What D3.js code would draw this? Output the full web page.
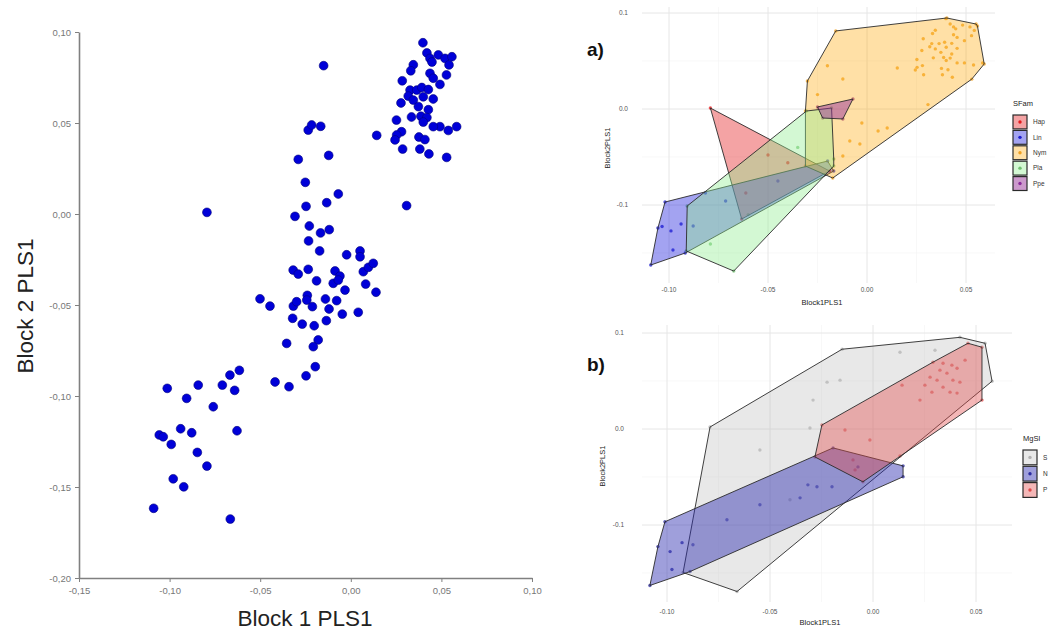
<!DOCTYPE html>
<html>
<head>
<meta charset="utf-8">
<script src="https://cdn.jsdelivr.net/npm/d3@7"></script>
<style>
  body { margin: 0; background: #fff; }
  svg { display: block; font-family: "Liberation Sans", Arial, sans-serif; }
</style>
</head>
<body>
<script>
// ---------- datos: panel izquierdo (Block 1 PLS1 / Block 2 PLS1) ----------
const lowPts = [
  [-0.1013,-0.0958],[-0.0842,-0.0940],[-0.0906,-0.1013],[-0.0709,-0.0940],[-0.0667,-0.0885],
  [-0.0615,-0.0859],[-0.0641,-0.0969],[-0.0759,-0.1059],[-0.0939,-0.1180],[-0.0878,-0.1202],
  [-0.1057,-0.1214],[-0.1035,-0.1224],[-0.0991,-0.1266],[-0.0628,-0.1191],[-0.0847,-0.1310],
  [-0.0794,-0.1385],[-0.0980,-0.1455],[-0.0922,-0.1499],[-0.1088,-0.1617],[-0.0665,-0.1676],
  [-0.0794,0.0009]
];
const midPts = [
  [-0.0150,0.0815],[-0.0235,0.0461],[-0.0216,0.0489],[-0.0166,0.0482],[0.0143,0.0432],
  [-0.0290,0.0300],[-0.0122,0.0322],[-0.0251,0.0174],[-0.0069,0.0110],[-0.0247,0.0042],
  [-0.0133,0.0062],[-0.0308,-0.0013],[-0.0229,-0.0066],[-0.0167,-0.0104],[-0.0119,-0.0086],
  [-0.0233,-0.0148],[-0.0172,-0.0203],[-0.0023,-0.0224],[0.0051,-0.0203],[0.0051,-0.0235],
  [-0.0318,-0.0308],[-0.0290,-0.0330],[-0.0235,-0.0304],[-0.0087,-0.0313],[-0.0060,-0.0341],
  [0.0069,-0.0317],[0.0097,-0.0293],[0.0124,-0.0271],[-0.0189,-0.0367],[-0.0097,-0.0381],
  [-0.0069,-0.0363],[0.0082,-0.0385],[0.0139,-0.0430],[-0.0032,-0.0418],[-0.0501,-0.0466],
  [-0.0446,-0.0506],[-0.0317,-0.0506],[-0.0299,-0.0482],[-0.0240,-0.0447],[-0.0243,-0.0473],
  [-0.0212,-0.0509],[-0.0140,-0.0467],[-0.0078,-0.0476],[-0.0120,-0.0522],[-0.0047,-0.0550],
  [0.0041,-0.0540],[-0.0321,-0.0573],[-0.0268,-0.0605],[-0.0202,-0.0614],[-0.0135,-0.0586],
  [-0.0354,-0.0711],[-0.0180,-0.0692],[-0.0207,-0.0729],[-0.0196,-0.0839],[-0.0247,-0.0889],
  [-0.0418,-0.0923],[-0.0341,-0.0949]
];
const topPts = [
  [0.0398,0.0941],[0.0420,0.0885],[0.0437,0.0855],[0.0483,0.0874],[0.0520,0.0855],
  [0.0558,0.0864],[0.0542,0.0819],[0.0345,0.0820],[0.0331,0.0787],[0.0448,0.0835],
  [0.0437,0.0773],[0.0455,0.0746],[0.0528,0.0764],[0.0284,0.0732],[0.0492,0.0712],
  [0.0327,0.0681],[0.0364,0.0681],[0.0392,0.0695],[0.0428,0.0684],[0.0317,0.0648],
  [0.0345,0.0626],[0.0400,0.0644],[0.0455,0.0632],[0.0277,0.0610],[0.0373,0.0590],
  [0.0428,0.0573],[0.0335,0.0533],[0.0387,0.0537],[0.0420,0.0530],[0.0400,0.0505],
  [0.0252,0.0516],[0.0492,0.0480],[0.0538,0.0459],[0.0584,0.0480],[0.0455,0.0480],
  [0.0280,0.0452],[0.0253,0.0434],[0.0244,0.0407],[0.0376,0.0423],[0.0409,0.0409],
  [0.0286,0.0357],[0.0381,0.0357],[0.0431,0.0330],[0.0529,0.0311],[0.0308,0.0046]
];
const mainXTicks = [-0.15, -0.10, -0.05, 0.00, 0.05, 0.10];
const mainYTicks = [-0.20, -0.15, -0.10, -0.05, 0.00, 0.05, 0.10];

// ---------- datos: panel a) por subfamilia ----------
const famNames = ["Hap", "Lin", "Nym", "Pla", "Ppe"];
const hapPts = [[-0.0791,0.0010],[-0.0633,-0.1146],[-0.0189,-0.0646],[-0.0500,-0.0479],[-0.0612,-0.0875],[-0.0400,-0.0560]];
const linPts = [[-0.1092,-0.1625],[-0.1020,-0.0969],[-0.0816,-0.0875],[-0.0199,-0.0542],[-0.0168,-0.0646],[-0.0918,-0.1500],
  [-0.1056,-0.1240],[-0.1035,-0.1224],[-0.0990,-0.1270],[-0.0939,-0.1198],[-0.0980,-0.1469],[-0.0878,-0.1219],
  [-0.0714,-0.0958],[-0.0450,-0.0750]];
const nymPts = [[-0.0158,0.0813],[0.0403,0.0948],[0.0551,0.0885],[0.0592,0.0469],[-0.0173,-0.0719],[-0.0311,-0.0594],
  [-0.0311,-0.0021],[-0.0301,0.0292],[-0.0122,0.0313],[-0.0087,-0.0333],[-0.0036,-0.0365],[0.0056,-0.0229],
  [0.0102,-0.0198],[-0.0026,-0.0146],[-0.0122,-0.0490],[0.0153,0.0427],[-0.0200,0.0450],[-0.0250,0.0150]]
  .concat(topPts);
const plaPts = [[-0.0908,-0.1010],[-0.0306,-0.0021],[-0.0179,0.0010],[-0.0168,-0.0521],[-0.0168,-0.0594],
  [-0.0673,-0.1688],[-0.0913,-0.1479],[-0.0791,-0.1406],[-0.0600,-0.1100],[-0.0350,-0.0400]];
const ppePts = [[-0.0250,0.0021],[-0.0071,0.0104],[-0.0122,-0.0104],[-0.0224,-0.0094]];

// ---------- datos: panel b) por MgSl ----------
const mgNames = ["S", "N", "P"];
const sPts = [[-0.0922,-0.1495],[-0.0791,0.0021],[-0.0150,0.0831],[0.0422,0.0955],[0.0544,0.0893],[0.0578,0.0498],
  [-0.0660,-0.1693],[-0.0223,0.0488],[-0.0160,0.0509],[-0.0291,0.0301],[-0.0306,0.0010],[-0.0549,-0.0218],
  [0.0301,0.0820],[0.0131,0.0800],[-0.0403,-0.0737]];
const nPts = [[-0.1083,-0.1630],[-0.1010,-0.0966],[-0.0194,-0.0197],[0.0146,-0.0384],[0.0146,-0.0498],[-0.0888,-0.1485],
  [-0.1044,-0.1225],[-0.0985,-0.1277],[-0.0927,-0.1184],[-0.0874,-0.1205],[-0.0976,-0.1464],[-0.0709,-0.0945],
  [-0.0354,-0.0717],[-0.0316,-0.0582],[-0.0272,-0.0602],[-0.0199,-0.0602],[-0.0073,-0.0395],[-0.0549,-0.0789]];
const pPts = [[-0.0248,0.0042],[-0.0282,-0.0291],[-0.0049,-0.0550],[0.0131,-0.0280],[0.0529,0.0301],[0.0529,0.0852],
  [0.0461,0.0893],[0.0291,0.0696],[0.0340,0.0685],[0.0383,0.0665],[0.0408,0.0633],[0.0325,0.0613],[0.0359,0.0582],
  [0.0277,0.0540],[0.0311,0.0509],[0.0388,0.0509],[0.0422,0.0488],[0.0252,0.0457],[0.0340,0.0436],[0.0374,0.0384],
  [0.0286,0.0384],[0.0408,0.0374],[0.0141,0.0457],[0.0447,0.0717],[0.0228,0.0301],[-0.0097,-0.0322],
  [-0.0087,-0.0426],[-0.0015,-0.0114],[-0.0136,-0.0010]];

const panelXTicks = [-0.10, -0.05, 0.00, 0.05];
const panelYTicks = [-0.1, 0.0, 0.1];

// ---------- lienzo ----------
const svg = d3.select("body").append("svg")
    .attr("width", 1052)
    .attr("height", 631);

const commaFmt = d3.formatLocale({ decimal: ",", thousands: ".", grouping: [3], currency: ["", ""], minus: "-" }).format(".2f");
const dotLocale = d3.formatLocale({ decimal: ".", thousands: ",", grouping: [3], currency: ["", ""], minus: "-" });

// ---------- panel izquierdo ----------
const x = d3.scaleLinear().domain([-0.15, 0.10]).range([79, 532]);
const y = d3.scaleLinear().domain([-0.20, 0.10]).range([578, 32]);

const xAxis = svg.append("g")
    .attr("transform", "translate(0,578)")
    .call(d3.axisBottom(x).tickValues(mainXTicks).tickFormat(commaFmt).tickSize(4).tickPadding(5).tickSizeOuter(0));
const yAxis = svg.append("g")
    .attr("transform", "translate(79,0)")
    .call(d3.axisLeft(y).tickValues(mainYTicks).tickFormat(commaFmt).tickSize(4).tickPadding(4).tickSizeOuter(0));

[xAxis, yAxis].forEach(g => {
    g.select(".domain").attr("stroke", "#808080").attr("stroke-width", 1.6);
    g.selectAll(".tick line").attr("stroke", "#808080");
    g.selectAll(".tick text").attr("fill", "#777").attr("font-size", 9.5)
        .attr("font-family", "'Liberation Sans', Arial, sans-serif");
});

svg.append("text")
    .attr("x", 305).attr("y", 626)
    .attr("text-anchor", "middle")
    .attr("font-size", 22.5).attr("fill", "#222")
    .text("Block 1 PLS1");
svg.append("text")
    .attr("transform", "translate(33,306) rotate(-90)")
    .attr("text-anchor", "middle")
    .attr("font-size", 22.5).attr("fill", "#222")
    .text("Block 2 PLS1");

svg.append("g").selectAll("circle")
    .data(lowPts.concat(midPts, topPts))
    .join("circle")
    .attr("cx", d => x(d[0]))
    .attr("cy", d => y(d[1]))
    .attr("r", 4.4)
    .attr("fill", "#0000d8")
    .attr("stroke", "#00007a")
    .attr("stroke-width", 0.6);

// ---------- paneles derechos (estilo ggplot minimal) ----------
function drawPanel(cfg) {
    const xs = d3.scaleLinear().domain([-0.10, 0.05]).range(cfg.xRange);
    const ys = d3.scaleLinear().domain([-0.1, 0.1]).range(cfg.yRange);
    const [x0, x1, y0, y1] = cfg.box;
    const g = svg.append("g");

    // rejilla menor y mayor
    const minorX = [-0.075, -0.025, 0.025], minorY = [-0.15, -0.05, 0.05];
    g.selectAll(".mx").data(minorX).join("line")
        .attr("x1", d => xs(d)).attr("x2", d => xs(d)).attr("y1", y0).attr("y2", y1)
        .attr("stroke", "#f4f4f4").attr("stroke-width", 0.6);
    g.selectAll(".my").data(minorY).join("line")
        .attr("y1", d => ys(d)).attr("y2", d => ys(d)).attr("x1", x0).attr("x2", x1)
        .attr("stroke", "#f4f4f4").attr("stroke-width", 0.6);
    g.selectAll(".gx").data(panelXTicks).join("line")
        .attr("x1", d => xs(d)).attr("x2", d => xs(d)).attr("y1", y0).attr("y2", y1)
        .attr("stroke", "#e6e6e6").attr("stroke-width", 1);
    g.selectAll(".gy").data(panelYTicks).join("line")
        .attr("y1", d => ys(d)).attr("y2", d => ys(d)).attr("x1", x0).attr("x2", x1)
        .attr("stroke", "#e6e6e6").attr("stroke-width", 1);

    // etiquetas de ejes
    g.selectAll(".tx").data(panelXTicks).join("text")
        .attr("x", d => xs(d)).attr("y", cfg.xLabelY)
        .attr("text-anchor", "middle").attr("font-size", 6.5).attr("fill", "#555")
        .text(dotLocale.format(".2f"));
    g.selectAll(".ty").data(panelYTicks).join("text")
        .attr("x", cfg.yLabelX).attr("y", d => ys(d) + 2.3)
        .attr("text-anchor", "end").attr("font-size", 6.5).attr("fill", "#555")
        .text(dotLocale.format(".1f"));
    g.append("text")
        .attr("x", cfg.xTitle[0]).attr("y", cfg.xTitle[1])
        .attr("text-anchor", "middle").attr("font-size", 7.5).attr("fill", "#222")
        .text("Block1PLS1");
    g.append("text")
        .attr("transform", `translate(${cfg.yTitle[0]},${cfg.yTitle[1]}) rotate(-90)`)
        .attr("text-anchor", "middle").attr("font-size", 7.5).attr("fill", "#222")
        .text("Block2PLS1");
    g.append("text")
        .attr("x", cfg.tag[1]).attr("y", cfg.tag[2])
        .attr("font-size", 19).attr("font-weight", "bold").attr("fill", "#111")
        .text(cfg.tag[0]);

    // puntos (debajo de los polígonos)
    cfg.groups.forEach(grp => {
        g.append("g").selectAll("circle")
            .data(grp.pts)
            .join("circle")
            .attr("cx", d => xs(d[0]))
            .attr("cy", d => ys(d[1]))
            .attr("r", 1.7)
            .attr("fill", grp.dot)
            .attr("opacity", 0.75);
    });

    // envolventes convexas
    cfg.groups.forEach(grp => {
        const hull = d3.polygonHull(grp.pts.map(d => [xs(d[0]), ys(d[1])]));
        g.append("path")
            .attr("d", "M" + hull.join("L") + "Z")
            .attr("fill", grp.fill)
            .attr("fill-opacity", grp.alpha)
            .attr("stroke", "#2a2a2a")
            .attr("stroke-width", 0.9)
            .attr("stroke-linejoin", "round");
    });

    // leyenda
    const lg = svg.append("g");
    lg.append("text")
        .attr("x", cfg.legend.x).attr("y", cfg.legend.y)
        .attr("font-size", 7.5).attr("fill", "#222")
        .text(cfg.legend.title);
    const items = lg.selectAll(".key").data(cfg.groups).join("g")
        .attr("transform", (d, i) => `translate(${cfg.legend.x},${cfg.legend.y + 9 + i * cfg.legend.step})`);
    items.append("rect")
        .attr("width", 14).attr("height", cfg.legend.step - 1.5)
        .attr("fill", "#fff");
    items.append("rect")
        .attr("width", 14).attr("height", cfg.legend.step - 1.5)
        .attr("fill", d => d.fill).attr("fill-opacity", d => d.alpha)
        .attr("stroke", "#2a2a2a").attr("stroke-width", 1.2);
    items.append("circle")
        .attr("cx", 7).attr("cy", (cfg.legend.step - 1.5) / 2).attr("r", 1.7)
        .attr("fill", d => d.dot);
    items.append("text")
        .attr("x", 20).attr("y", (cfg.legend.step - 1.5) / 2 + 2.3)
        .attr("font-size", 6.5).attr("fill", "#333")
        .text(d => d.name);
}

drawPanel({
    xRange: [669, 966], yRange: [205, 13], box: [642, 995, 7, 283],
    xLabelY: 292, yLabelX: 628, xTitle: [822, 305], yTitle: [610, 148],
    tag: ["a)", 587, 56],
    legend: { x: 1013, y: 106, title: "SFam", step: 15.4 },
    groups: [
        { name: famNames[0], pts: hapPts, fill: "#e41a1c", alpha: 0.4, dot: "#e41a1c" },
        { name: famNames[1], pts: linPts, fill: "#1a1add", alpha: 0.4, dot: "#1a1acc" },
        { name: famNames[2], pts: nymPts, fill: "#ffa500", alpha: 0.35, dot: "#f0a020" },
        { name: famNames[3], pts: plaPts, fill: "#90ee90", alpha: 0.4, dot: "#70c070" },
        { name: famNames[4], pts: ppePts, fill: "#993399", alpha: 0.5, dot: "#8a2a9a" }
    ]
});

drawPanel({
    xRange: [667, 976], yRange: [525, 333], box: [642, 1012, 325, 602],
    xLabelY: 614, yLabelX: 624, xTitle: [820, 625], yTitle: [605, 466],
    tag: ["b)", 587, 371],
    legend: { x: 1023, y: 441, title: "MgSl", step: 16.3 },
    groups: [
        { name: mgNames[0], pts: sPts, fill: "#bdbdbd", alpha: 0.35, dot: "#b0b0b0" },
        { name: mgNames[1], pts: nPts, fill: "#2b2bb0", alpha: 0.45, dot: "#2b2ba0" },
        { name: mgNames[2], pts: pPts, fill: "#e34a4a", alpha: 0.4, dot: "#e04848" }
    ]
});
</script>
</body>
</html>
